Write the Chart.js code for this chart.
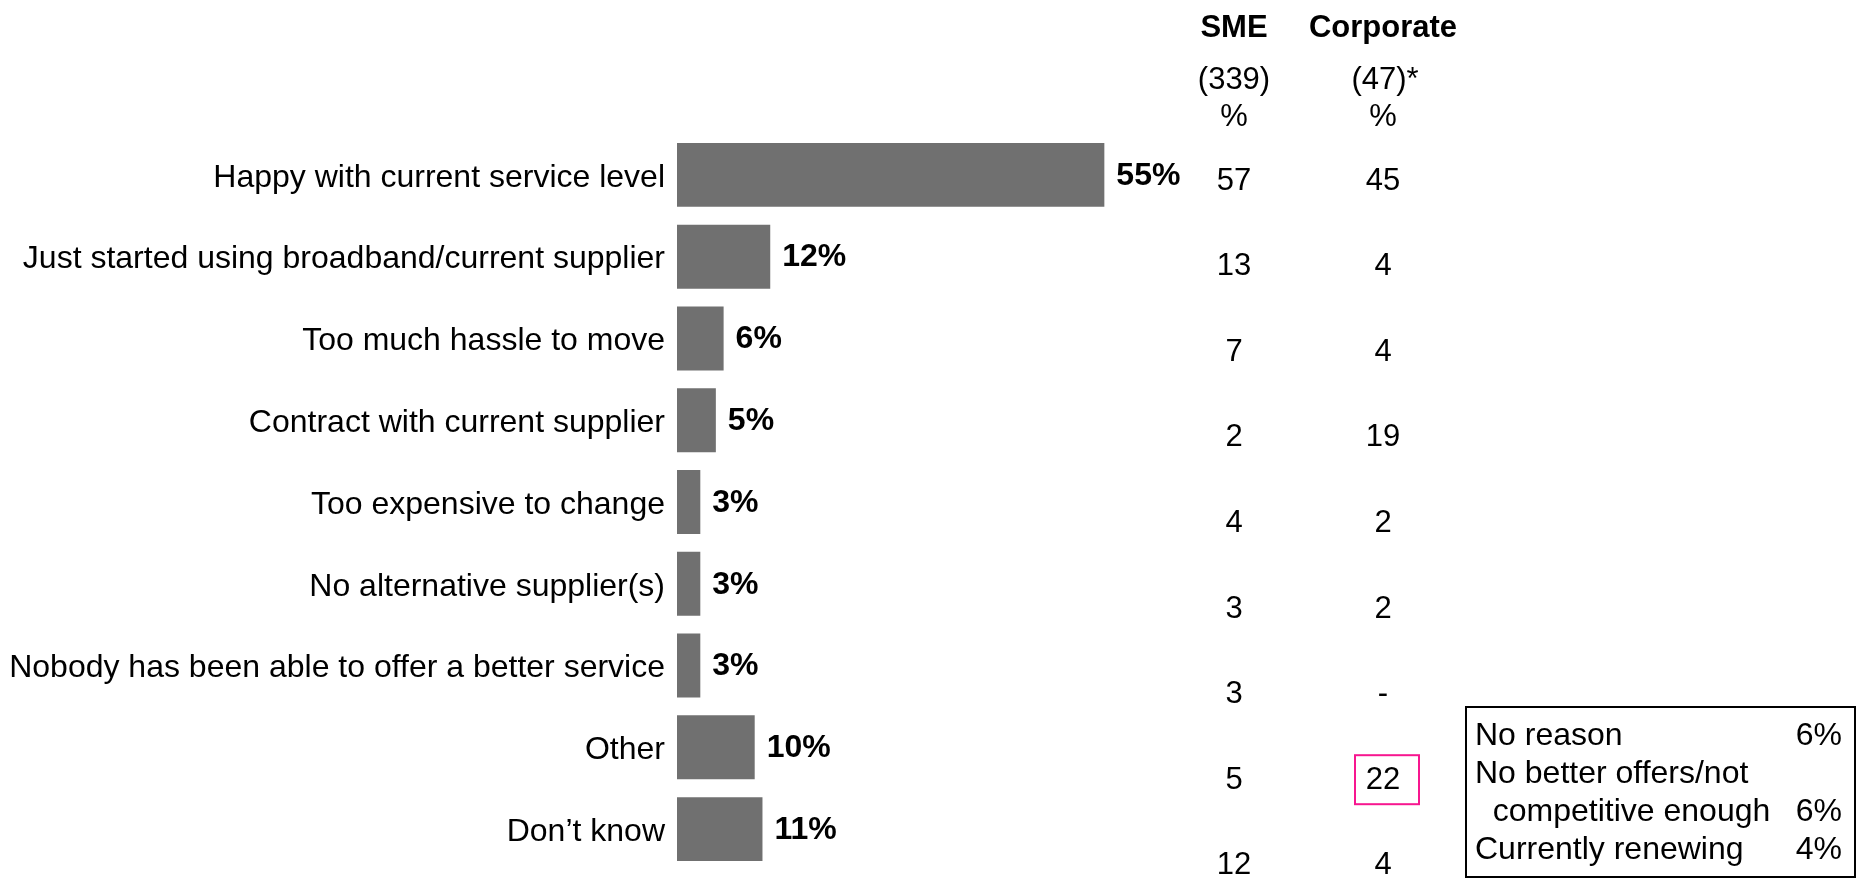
<!DOCTYPE html>
<html>
<head>
<meta charset="utf-8">
<script src="https://cdn.jsdelivr.net/npm/chart.js@4.4.1/dist/chart.umd.min.js"></script>
<style>
  html, body { margin: 0; padding: 0; background: #ffffff; }
  #wrap { width: 1857px; height: 878px; position: relative; }
</style>
</head>
<body>
<div id="wrap"><canvas id="chart" width="1857" height="878"></canvas></div>
<script>
// Reasons for staying with the current broadband supplier
const categories = [
  'Happy with current service level',
  'Just started using broadband/current supplier',
  'Too much hassle to move',
  'Contract with current supplier',
  'Too expensive to change',
  'No alternative supplier(s)',
  'Nobody has been able to offer a better service',
  'Other',
  'Don\u2019t know'
];
const totalPercent = [55, 12, 6, 5, 3, 3, 3, 10, 11];

// Breakdown table by business size
const tableHeaders = ['SME', 'Corporate'];
const sampleSizes = ['(339)', '(47)*'];
const unitRow = ['%', '%'];
const smeValues = ['57', '13', '7', '2', '4', '3', '3', '5', '12'];
const corporateValues = ['45', '4', '4', '19', '2', '2', '-', '22', '4'];
const highlightedCorporateRow = 7;

// "Other" answers broken out
const otherReasonLabels = ['No reason', 'No better offers/not', '  competitive enough', 'Currently renewing'];
const otherReasonValues = ['6%', '', '6%', '4%'];

const FONT = '"Liberation Sans", Arial, Helvetica, sans-serif';
const BAR_LEFT = 677;
const X_MAX = 60;
const PX_PER_UNIT = 7.77;
const CHART_RIGHT = BAR_LEFT + X_MAX * PX_PER_UNIT;

// Bold value label at the end of every bar
const valueLabels = {
  id: 'valueLabels',
  afterDatasetsDraw(chart) {
    const ctx = chart.ctx;
    const meta = chart.getDatasetMeta(0);
    ctx.save();
    ctx.font = 'bold 32px ' + FONT;
    ctx.fillStyle = '#000';
    ctx.textAlign = 'left';
    ctx.textBaseline = 'middle';
    meta.data.forEach((bar, i) => {
      ctx.fillText(totalPercent[i] + '%', bar.x + 12, bar.y + 1);
    });
    ctx.restore();
  }
};

// SME / Corporate columns and the "Other" breakdown box
const sideTable = {
  id: 'sideTable',
  afterDraw(chart) {
    const ctx = chart.ctx;
    const colX = [1234, 1383];
    const rowY0 = 181;
    const rowStep = 85.6;
    ctx.save();
    ctx.fillStyle = '#000';
    ctx.textAlign = 'center';
    ctx.textBaseline = 'middle';

    ctx.font = 'bold 31px ' + FONT;
    tableHeaders.forEach((h, c) => ctx.fillText(h, colX[c], 28));
    ctx.font = '31px ' + FONT;
    sampleSizes.forEach((s, c) => ctx.fillText(s, colX[c] + (c === 1 ? 2 : 0), 80));
    unitRow.forEach((s, c) => ctx.fillText(s, colX[c], 117));

    for (let i = 0; i < smeValues.length; i++) {
      const y = rowY0 + i * rowStep;
      ctx.fillText(smeValues[i], colX[0], y);
      ctx.fillText(corporateValues[i], colX[1], y);
    }

    // highlight frame
    const hy = rowY0 + highlightedCorporateRow * rowStep;
    ctx.strokeStyle = '#f7168f';
    ctx.lineWidth = 2;
    ctx.strokeRect(1355, hy - 25, 64, 49);

    // "Other" breakdown box
    ctx.strokeStyle = '#000';
    ctx.lineWidth = 2;
    ctx.strokeRect(1466, 707, 389, 170);
    ctx.font = '32px ' + FONT;
    const lineY0 = 736;
    const lineStep = 38;
    otherReasonLabels.forEach((t, i) => {
      const y = lineY0 + i * lineStep;
      ctx.textAlign = 'left';
      ctx.fillText(t, 1475, y);
      ctx.textAlign = 'right';
      ctx.fillText(otherReasonValues[i], 1842, y);
    });
    ctx.restore();
  }
};

new Chart(document.getElementById('chart'), {
  type: 'bar',
  data: {
    labels: categories,
    datasets: [{
      data: totalPercent,
      backgroundColor: '#707070',
      borderWidth: 0,
      categoryPercentage: 0.782,
      barPercentage: 1
    }]
  },
  options: {
    indexAxis: 'y',
    responsive: false,
    animation: false,
    devicePixelRatio: 1,
    layout: { padding: { top: 134, bottom: 8, left: 0, right: 1857 - CHART_RIGHT } },
    plugins: { legend: { display: false }, tooltip: { enabled: false } },
    scales: {
      x: { display: false, min: 0, max: X_MAX },
      y: {
        afterFit(scale) {
          scale.width = BAR_LEFT;
          scale.paddingTop = 0;
          scale.paddingBottom = 0;
        },
        grid: { display: false, drawTicks: false },
        border: { display: false },
        ticks: {
          padding: 12,
          labelOffset: 3,
          color: '#000',
          font: { family: FONT, size: 32 }
        }
      }
    }
  },
  plugins: [valueLabels, sideTable]
});
</script>
</body>
</html>
